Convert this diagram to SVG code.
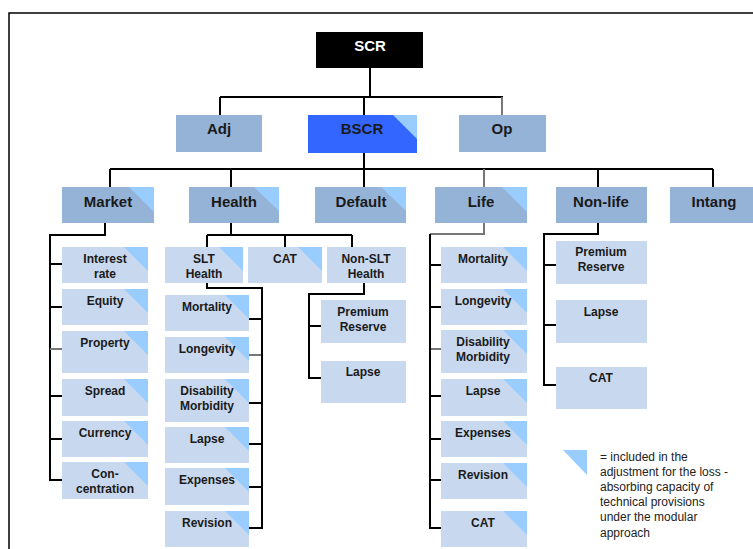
<svg xmlns="http://www.w3.org/2000/svg" width="753" height="549" viewBox="0 0 753 549">
<style>
.frame{fill:none;stroke:#000;stroke-width:1.5}
.top{fill:#95B3D7}
.sub{fill:#C8D8EE}
.tri{fill:#99CCFF}
.c{fill:none;stroke:#000;stroke-width:2}
.g{fill:none;stroke:#777;stroke-width:2}
text{font-family:"Liberation Sans",Arial,sans-serif;font-weight:bold;text-anchor:middle;fill:#1a1a1a}
.t1{font-size:15px}
.t2{font-size:12px}
.leg{font-size:12px;font-weight:normal;text-anchor:start;fill:#222}
</style>
<rect x="0" y="0" width="753" height="549" fill="#fff"/>
<path class="frame" d="M9,549 V13 H753"/>

<g id="connectors">
<path class="c" d="M370,68 V97 M220,97 H503 M220,97 V115 M364,97 V115"/>
<path class="g" d="M502,97 V115"/>
<path class="c" d="M364,153 V169 M110,169 H713 M110,169 V187 M231,169 V187 M364,169 V187 M598,169 V187 M713,169 V187"/>
<path class="g" d="M484,169 V187"/>
<path class="c" d="M105,223 V235 H50 V480 H62 M50,264 H62 M50,307 H62 M50,396 H62 M50,439 H62"/>
<path class="g" d="M50,349 H62"/>
<path class="c" d="M231,223 V235 M207,235 H352 M207,235 V247 M285,235 V247 M352,235 V247"/>
<path class="c" d="M207,283 V288 H262 V528 H249 M249,319 H262 M249,403 H262 M249,444 H262 M249,487 H262"/>
<path class="g" d="M249,355 H261"/>
<path class="c" d="M364,283 V294 H309 V378 H321 M309,326 H321"/>
<path class="g" d="M484,223 V234 H430"/>
<path class="c" d="M430,234 V528 H441 M430,265 H441 M430,307 H441 M430,396 H441 M430,439 H441 M430,480 H441"/>
<path class="g" d="M431,349 H441"/>
<path class="c" d="M598,223 V234 H544 V385 H556 M544,265 H556 M544,325 H556"/>
</g>

<g id="scr"><rect x="316" y="32" width="107" height="36" fill="#000"/><text class="t1" x="370" y="51" style="fill:#fff">SCR</text></g>
<g id="adj"><rect class="top" x="176" y="115" width="86" height="37"/><text class="t1" x="219" y="134">Adj</text></g>
<g id="bscr"><rect x="308" y="115" width="109" height="38" fill="#3366FF"/><polygon class="tri" points="393,115 417,115 417,139"/><text class="t1" x="362" y="134">BSCR</text></g>
<g id="op"><rect class="top" x="459" y="115" width="87" height="37"/><text class="t1" x="502" y="134">Op</text></g>

<g id="market"><rect class="top" x="62" y="187" width="92" height="36"/><polygon class="tri" points="129,187 154,187 154,212"/><text class="t1" x="108" y="207">Market</text></g>
<g id="health"><rect class="top" x="189" y="187" width="90" height="36"/><polygon class="tri" points="254,187 279,187 279,211"/><text class="t1" x="234" y="207">Health</text></g>
<g id="default"><rect class="top" x="315" y="187" width="91" height="36"/><polygon class="tri" points="381,187 406,187 406,211"/><text class="t1" x="361" y="207">Default</text></g>
<g id="life"><rect class="top" x="435" y="187" width="92" height="36"/><polygon class="tri" points="502,187 527,187 527,212"/><text class="t1" x="481" y="207">Life</text></g>
<g id="nonlife"><rect class="top" x="556" y="187" width="91" height="36"/><text class="t1" x="601" y="207">Non-life</text></g>
<g id="intang"><rect class="top" x="670" y="187" width="90" height="36"/><text class="t1" x="714" y="207">Intang</text></g>

<g id="m-interest"><rect class="sub" x="62" y="247" width="86" height="36"/><polygon class="tri" points="124,247 148,247 148,271"/><text class="t2" x="105" y="263">Interest</text><text class="t2" x="105" y="278">rate</text></g>
<g id="m-equity"><rect class="sub" x="62" y="289" width="86" height="36"/><polygon class="tri" points="124,289 148,289 148,313"/><text class="t2" x="105" y="305">Equity</text></g>
<g id="m-property"><rect class="sub" x="62" y="331" width="86" height="42"/><polygon class="tri" points="124,331 148,331 148,355"/><text class="t2" x="105" y="347">Property</text></g>
<g id="m-spread"><rect class="sub" x="62" y="379" width="86" height="37"/><polygon class="tri" points="124,379 148,379 148,403"/><text class="t2" x="105" y="395">Spread</text></g>
<g id="m-currency"><rect class="sub" x="62" y="421" width="86" height="36"/><polygon class="tri" points="124,421 148,421 148,445"/><text class="t2" x="105" y="437">Currency</text></g>
<g id="m-conc"><rect class="sub" x="62" y="462" width="86" height="37"/><polygon class="tri" points="124,462 148,462 148,486"/><text class="t2" x="105" y="478">Con-</text><text class="t2" x="105" y="493">centration</text></g>

<g id="h-slt"><rect class="sub" x="165" y="247" width="78" height="36"/><polygon class="tri" points="219,247 243,247 243,271"/><text class="t2" x="204" y="263">SLT</text><text class="t2" x="204" y="278">Health</text></g>
<g id="h-cat"><rect class="sub" x="248" y="247" width="74" height="36"/><polygon class="tri" points="298,247 322,247 322,271"/><text class="t2" x="285" y="263">CAT</text></g>
<g id="h-nonslt"><rect class="sub" x="327" y="247" width="79" height="36"/><text class="t2" x="366" y="263">Non-SLT</text><text class="t2" x="366" y="278">Health</text></g>

<g id="s-mortality"><rect class="sub" x="165" y="295" width="84" height="36"/><polygon class="tri" points="225,295 249,295 249,319"/><text class="t2" x="207" y="311">Mortality</text></g>
<g id="s-longevity"><rect class="sub" x="165" y="337" width="84" height="36"/><polygon class="tri" points="225,337 249,337 249,361"/><text class="t2" x="207" y="353">Longevity</text></g>
<g id="s-disability"><rect class="sub" x="165" y="379" width="84" height="43"/><polygon class="tri" points="225,379 249,379 249,403"/><text class="t2" x="207" y="395">Disability</text><text class="t2" x="207" y="410">Morbidity</text></g>
<g id="s-lapse"><rect class="sub" x="165" y="427" width="84" height="36"/><polygon class="tri" points="225,427 249,427 249,451"/><text class="t2" x="207" y="443">Lapse</text></g>
<g id="s-expenses"><rect class="sub" x="165" y="468" width="84" height="37"/><polygon class="tri" points="225,468 249,468 249,492"/><text class="t2" x="207" y="484">Expenses</text></g>
<g id="s-revision"><rect class="sub" x="165" y="511" width="84" height="36"/><polygon class="tri" points="225,511 249,511 249,535"/><text class="t2" x="207" y="527">Revision</text></g>

<g id="n-premium"><rect class="sub" x="321" y="300" width="85" height="43"/><text class="t2" x="363" y="316">Premium</text><text class="t2" x="363" y="331">Reserve</text></g>
<g id="n-lapse"><rect class="sub" x="321" y="361" width="85" height="42"/><text class="t2" x="363" y="376">Lapse</text></g>

<g id="l-mortality"><rect class="sub" x="441" y="247" width="86" height="36"/><polygon class="tri" points="503,247 527,247 527,271"/><text class="t2" x="483" y="263">Mortality</text></g>
<g id="l-longevity"><rect class="sub" x="441" y="289" width="86" height="36"/><polygon class="tri" points="503,289 527,289 527,313"/><text class="t2" x="483" y="305">Longevity</text></g>
<g id="l-disability"><rect class="sub" x="441" y="330" width="86" height="43"/><polygon class="tri" points="503,330 527,330 527,354"/><text class="t2" x="483" y="346">Disability</text><text class="t2" x="483" y="361">Morbidity</text></g>
<g id="l-lapse"><rect class="sub" x="441" y="379" width="86" height="37"/><polygon class="tri" points="503,379 527,379 527,403"/><text class="t2" x="483" y="395">Lapse</text></g>
<g id="l-expenses"><rect class="sub" x="441" y="421" width="86" height="36"/><polygon class="tri" points="503,421 527,421 527,445"/><text class="t2" x="483" y="437">Expenses</text></g>
<g id="l-revision"><rect class="sub" x="441" y="463" width="86" height="36"/><polygon class="tri" points="503,463 527,463 527,487"/><text class="t2" x="483" y="479">Revision</text></g>
<g id="l-cat"><rect class="sub" x="441" y="511" width="86" height="36"/><polygon class="tri" points="503,511 527,511 527,535"/><text class="t2" x="483" y="527">CAT</text></g>

<g id="nl-premium"><rect class="sub" x="556" y="241" width="91" height="43"/><text class="t2" x="601" y="256">Premium</text><text class="t2" x="601" y="271">Reserve</text></g>
<g id="nl-lapse"><rect class="sub" x="556" y="300" width="91" height="43"/><text class="t2" x="601" y="316">Lapse</text></g>
<g id="nl-cat"><rect class="sub" x="556" y="367" width="91" height="42"/><text class="t2" x="601" y="382">CAT</text></g>

<g id="legend">
<polygon class="tri" points="563,450 587,450 587,475"/>
<text class="leg" x="600" y="461">= included in the</text>
<text class="leg" x="600" y="476">adjustment for the loss -</text>
<text class="leg" x="600" y="491">absorbing capacity of</text>
<text class="leg" x="600" y="506">technical provisions</text>
<text class="leg" x="600" y="521">under the modular</text>
<text class="leg" x="600" y="537">approach</text>
</g>
</svg>
